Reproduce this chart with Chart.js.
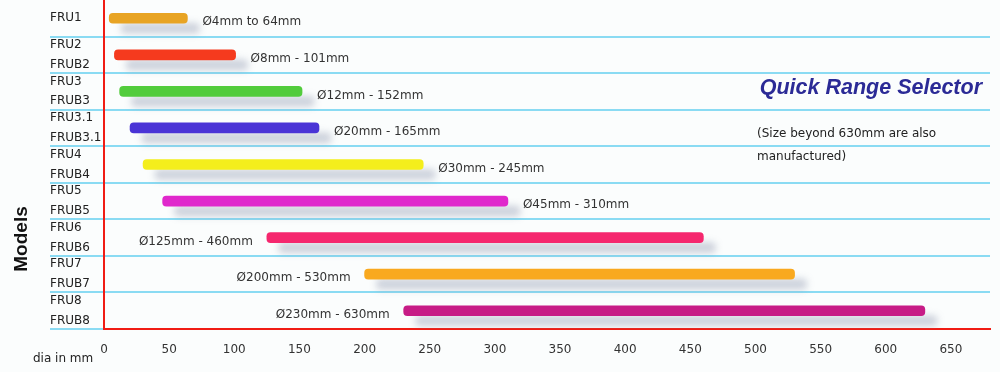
<!DOCTYPE html>
<html>
<head>
<meta charset="utf-8">
<script src="https://cdn.jsdelivr.net/npm/chart.js@4"></script>
<style>
  html, body { margin: 0; padding: 0; background: #fbfdfd; }
  #wrap { width: 1000px; height: 372px; position: relative; }
</style>
</head>
<body>
<div id="wrap"><canvas id="rangeChart"></canvas></div>
<script>
var models = [
    ['FRU1'],
    ['FRU2', 'FRUB2'],
    ['FRU3', 'FRUB3'],
    ['FRU3.1', 'FRUB3.1'],
    ['FRU4', 'FRUB4'],
    ['FRU5', 'FRUB5'],
    ['FRU6', 'FRUB6'],
    ['FRU7', 'FRUB7'],
    ['FRU8', 'FRUB8']
];
var minDia = [4, 8, 12, 20, 30, 45, 125, 200, 230];
var maxDia = [64, 101, 152, 165, 245, 310, 460, 530, 630];
var rangeText = ['Ø4mm to 64mm', 'Ø8mm - 101mm', 'Ø12mm - 152mm', 'Ø20mm - 165mm',
    'Ø30mm - 245mm', 'Ø45mm - 310mm', 'Ø125mm - 460mm', 'Ø200mm - 530mm', 'Ø230mm - 630mm'];
var barColors = ['#e8a424', '#f53a1e', '#52cc3c', '#4a34d6', '#f4ee1c', '#e028cc', '#f5276e', '#f9a91f', '#c71c86'];

var ranges = [];
for (var i = 0; i < minDia.length; i++) {
    ranges.push([minDia[i], maxDia[i]]);
}

var font = "'DejaVu Sans', sans-serif";

// soft grey shadow under each bar
var shadowPlugin = {
    id: 'barShadow',
    beforeDatasetDraw: function (chart) {
        var c = chart.ctx;
        c.save();
        c.shadowColor = 'rgba(140,150,175,0.42)';
        c.shadowBlur = 7;
        c.shadowOffsetX = 12;
        c.shadowOffsetY = 10;
    },
    afterDatasetDraw: function (chart) {
        chart.ctx.restore();
    }
};

// range texts next to bars plus the free texts
var textPlugin = {
    id: 'texts',
    afterDraw: function (chart) {
        var c = chart.ctx;
        var meta = chart.getDatasetMeta(0);
        var x = chart.scales.x;
        c.save();
        c.font = '12px ' + font;
        c.fillStyle = '#333';
        c.textBaseline = 'middle';
        meta.data.forEach(function (bar, i) {
            var y = bar.y + 4;
            if (minDia[i] >= 100) {
                c.textAlign = 'right';
                c.fillText(rangeText[i], x.getPixelForValue(minDia[i]) - 14, y);
            } else {
                c.textAlign = 'left';
                c.fillText(rangeText[i], x.getPixelForValue(maxDia[i]) + 15, y);
            }
        });

        c.textAlign = 'left';
        c.fillStyle = '#222';
        c.fillText('dia in mm', 33, 359);

        c.fillText('(Size beyond 630mm are also', 757, 134);
        c.fillText('manufactured)', 757, 157);

        c.font = "italic bold 21.5px 'Liberation Sans', Arial, sans-serif";
        c.fillStyle = '#2b2a96';
        c.textAlign = 'right';
        c.fillText('Quick Range Selector', 982, 88);

        c.translate(22, 239);
        c.rotate(-Math.PI / 2);
        c.font = "bold 19px 'Liberation Sans', Arial, sans-serif";
        c.fillStyle = '#111';
        c.textAlign = 'center';
        c.fillText('Models', 0, 0);
        c.restore();
    }
};

new Chart(document.getElementById('rangeChart'), {
    type: 'bar',
    data: {
        labels: models,
        datasets: [{
            data: ranges,
            backgroundColor: barColors,
            borderWidth: 0,
            borderSkipped: false,
            borderRadius: 4,
            barThickness: 10
        }]
    },
    options: {
        indexAxis: 'y',
        responsive: true,
        maintainAspectRatio: false,
        animation: false,
        layout: { padding: { left: 50, right: 10, top: 0, bottom: 0 } },
        plugins: {
            legend: { display: false },
            tooltip: { enabled: false }
        },
        scales: {
            x: {
                min: 0,
                max: 680,
                afterBuildTicks: function (scale) {
                    scale.ticks = scale.ticks.filter(function (t) { return t.value % 50 === 0 && t.value <= 650; });
                },
                afterFit: function (scale) { scale.height = 43; },
                ticks: { stepSize: 50, padding: 14, color: '#333', font: { family: font, size: 12 }, maxRotation: 0 },
                grid: { display: false, drawTicks: false },
                border: { display: true, color: '#f01c14', width: 2 }
            },
            y: {
                afterFit: function (scale) {
                    scale.width = 54;
                    scale.paddingTop = 0;
                    scale.paddingBottom = 0;
                },
                ticks: {
                    autoSkip: false,
                    crossAlign: 'far',
                    color: '#222',
                    font: { family: font, size: 12, lineHeight: 1.65 }
                },
                grid: {
                    offset: true,
                    tickLength: 54,
                    lineWidth: 2,
                    color: function (ctx) {
                        return (ctx.index === 0 || ctx.index === models.length) ? 'rgba(0,0,0,0)' : '#8adbf3';
                    }
                },
                border: { display: true, color: '#f01c14', width: 2 }
            }
        }
    },
    plugins: [shadowPlugin, textPlugin]
});
</script>
</body>
</html>
